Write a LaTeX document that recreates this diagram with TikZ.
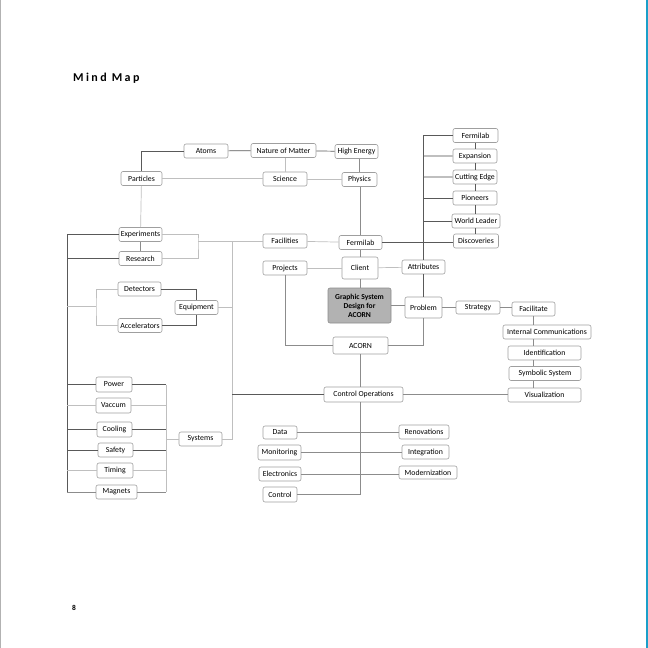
\documentclass[tikz,border=0pt]{standalone}
\usepackage{fontspec}
\setmainfont{Carlito}
\usepackage{xcolor}
\definecolor{pageblue}{HTML}{1A9FC9}
\tikzset{
    box/.style={draw=gray!75, fill=white, rounded corners=2pt, line width=0.6pt,
        minimum width=44pt, minimum height=14pt, inner sep=0pt,
        font=\fontsize{7.8}{9}\selectfont},
    mainbox/.style={box, fill=gray!60, draw=gray!90, align=center,
        font=\fontsize{7.6}{9}\selectfont\bfseries},
    darkline/.style={draw=black!65, line width=0.7pt},
    midline/.style={draw=black!45, line width=0.7pt},
    lightline/.style={draw=black!25, line width=0.7pt},
    thickline/.style={draw=black!25, line width=1.4pt},
}

\begin{document}
\begin{tikzpicture}[x=1pt, y=-1pt]
    \useasboundingbox (0,0) rectangle (648,648);
    %% page edges
    \draw[gray!60, line width=1pt] (0.5,0) -- (0.5,648);
    \draw[pageblue, line width=1.2pt] (647,0) -- (647,648);
    \node[anchor=base west, inner sep=0pt, font=\fontsize{12}{14}\selectfont\bfseries\addfontfeature{LetterSpace=20}] (title) at (73,81) {Mind Map};
    \node[inner sep=0pt, font=\fontsize{7.5}{8}\selectfont\bfseries] (pagenum) at (74,608) {8};

    %% top rows
    \node[box] (atoms) at (206,151) {Atoms};
    \node[box, minimum width=65pt] (nature) at (283.5,150.5) {Nature of Matter};
    \node[box, minimum width=43pt] (highenergy) at (356.5,151.5) {High Energy};
    \node[box, minimum width=41pt] (particles) at (141.5,178.5) {Particles};
    \node[box] (science) at (285,179) {Science};
    \node[box, minimum width=35pt] (physics) at (359.5,179.5) {Physics};

    %% right column
    \node[box, minimum width=45pt] (fermilabtop) at (475.5,135.5) {Fermilab};
    \node[box] (expansion) at (475,156) {Expansion};
    \node[box] (cutting) at (475,177) {Cutting Edge};
    \node[box] (pioneers) at (475,198) {Pioneers};
    \node[box, minimum width=48pt] (worldleader) at (476,221) {World Leader};
    \node[box, minimum width=45pt] (discoveries) at (476,241) {Discoveries};

    %% middle
    \node[box, minimum width=43pt] (experiments) at (140.5,234.5) {Experiments};
    \node[box, minimum width=43pt] (research) at (140.5,258.5) {Research};
    \node[box] (facilities) at (285,241) {Facilities};
    \node[box, minimum width=43pt] (fermilab) at (360.5,242.5) {Fermilab};
    \node[box] (projects) at (285,268) {Projects};
    \node[box, minimum width=36pt, minimum height=22pt] (client) at (360,268) {Client};
    \node[box, minimum width=43pt] (attributes) at (423.5,267) {Attributes};
    \node[box, minimum width=43pt] (detectors) at (139.5,289) {Detectors};
    \node[box] (accelerators) at (140,325.5) {Accelerators};
    \node[box, minimum width=43pt] (equipment) at (196.5,307.5) {Equipment};
    \node[mainbox, minimum width=63pt, minimum height=35pt] (graphic) at (359.5,305.5) {Graphic System\\Design for\\ACORN};
    \node[box, minimum width=37pt, minimum height=21pt] (problem) at (423.5,307.5) {Problem};
    \node[box, minimum height=13pt] (strategy) at (478,307.5) {Strategy};
    \node[box, minimum width=43pt] (facilitate) at (533.5,309) {Facilitate};
    \node[box, minimum width=88pt] (internal) at (547,332) {Internal Communications};
    \node[box, minimum width=73pt] (identification) at (544.5,353) {Identification};
    \node[box, minimum width=72pt] (symbolic) at (545,373.5) {Symbolic System};
    \node[box, minimum width=73pt] (visualization) at (544.5,395) {Visualization};
    \node[box, minimum width=55pt, minimum height=17pt] (acorn) at (360.5,345.5) {ACORN};
    \node[box, minimum width=79pt, minimum height=15pt] (controlops) at (363.5,394.5) {Control Operations};

    %% systems
    \node[box, minimum width=36pt, minimum height=15pt] (power) at (114,384.5) {Power};
    \node[box, minimum width=35pt, minimum height=15pt] (vaccum) at (113.5,405.5) {Vaccum};
    \node[box, minimum width=35pt, minimum height=15pt] (cooling) at (114.5,429.5) {Cooling};
    \node[box, minimum width=35pt] (safety) at (115.5,450) {Safety};
    \node[box, minimum width=36pt, minimum height=15pt] (timing) at (115,470.5) {Timing};
    \node[box, minimum width=41pt] (magnets) at (116.5,492) {Magnets};
    \node[box, minimum width=43pt] (systems) at (200.5,439) {Systems};

    %% bottom
    \node[box, minimum width=34pt, minimum height=13pt] (data) at (280,432.5) {Data};
    \node[box, minimum width=43pt, minimum height=15pt] (monitoring) at (279.5,452.5) {Monitoring};
    \node[box, minimum width=42pt] (electronics) at (280,474) {Electronics};
    \node[box, minimum width=34pt, minimum height=15pt] (control) at (280,494.5) {Control};
    \node[box, minimum width=50pt] (renovations) at (424,432) {Renovations};
    \node[box, minimum width=47pt] (integration) at (425.5,452) {Integration};
    \node[box, minimum width=58pt, minimum height=13pt] (modernization) at (428,472.5) {Modernization};

    %% bus points
    \coordinate (leftbus) at (67,234.5);
    \coordinate (leftbot) at (67,492);
    \coordinate (expbus) at (198,241);
    \coordinate (midbus) at (232,241);
    \coordinate (detbus) at (96,306.5);
    \coordinate (sysbus) at (166,384.5);
    \coordinate (sysbot) at (166,492);

    %% top connectors
    \draw[darkline] (atoms.west) -| (particles.north);
    \draw[darkline] (atoms) -- (nature);
    \draw[darkline] (nature) -- (highenergy);
    \draw[lightline] (science.north) -- (science.north |- nature.south);
    \draw[lightline] (particles) -- (particles -| science.west);
    \draw[lightline] (science) -- (science -| physics.west);
    \draw[midline] (physics.north) -- (physics.north |- highenergy.south);
    \draw[midline] (physics.south -| fermilab) -- (fermilab.north);
    \draw[midline] (fermilab.south -| client) -- (client.north);
    \draw[midline] (client.south) -- (client.south |- graphic.north);
    \draw[lightline] (particles) -- (experiments);
    \draw[midline] (experiments) -- (research);

    %% left side
    \draw[lightline] (experiments.east) -| (expbus) |- (research.east);
    \draw[lightline] (expbus) -- (facilities.west);
    \draw[lightline] (midbus) |- (systems.east);
    \draw[lightline] (equipment.east) -- (equipment.east -| midbus);
    \draw[darkline] (controlops.west) -- (controlops.west -| midbus);
    \draw[darkline] (experiments.west) -- (leftbus) -- (leftbot);
    \draw[darkline] (research.west) -- (research.west -| leftbus);
    \draw[lightline] (detectors.west) -| (detbus) |- (accelerators.west);
    \draw[lightline] (detbus) -- (detbus -| leftbus);
    \draw[darkline] (detectors.east) -| (equipment.north);
    \draw[darkline] (accelerators.east) -| (equipment.south);

    %% centre
    \draw[lightline] (facilities) -- (fermilab);
    \draw[lightline] (projects) -- (client);
    \draw[lightline] (client) -- (attributes);
    \draw[midline] (projects.south) |- (acorn.west);
    \draw[midline] (acorn.east) -| (problem.south);
    \draw[midline] (graphic.east) -- (graphic.east -| problem.west);
    \draw[midline] (problem.east) -- (problem.east -| strategy.west);
    \draw[midline] (strategy.east) -- (strategy.east -| facilitate.west);
    \draw[midline] (facilitate.south) -- (facilitate.south |- internal.north);
    \draw[midline] (internal.south -| facilitate) -- (identification.north -| facilitate);
    \draw[midline] (identification.south -| facilitate) -- (symbolic.north -| facilitate);
    \draw[midline] (symbolic.south -| facilitate) -- (visualization.north -| facilitate);
    \draw[midline] (controlops.east) -- (controlops.east -| visualization.west);
    \draw[midline] (acorn.south) -- (acorn.south |- controlops.north);

    %% attributes column
    \draw[darkline] (attributes.north) |- (fermilabtop.west);
    \draw[darkline] (attributes.south) -- (problem.north);
    \draw[thickline] (expansion.west -| attributes) -- (expansion.west);
    \draw[thickline] (cutting.west -| attributes) -- (cutting.west);
    \draw[darkline] (pioneers.west -| attributes) -- (pioneers.west);
    \draw[darkline] (worldleader.west -| attributes) -- (worldleader.west);
    \draw[darkline] (fermilab.east) -- (fermilab.east -| discoveries.west);
    \foreach \a/\b in {fermilabtop/expansion, expansion/cutting, cutting/pioneers,
        pioneers/worldleader, worldleader/discoveries}
        \draw[darkline] (\a.south -| fermilabtop) -- (\b.north -| fermilabtop);

    %% systems lines
    \foreach \s/\c in {power/darkline, vaccum/lightline, cooling/darkline,
        safety/darkline, timing/lightline, magnets/midline} {
        \draw[\c] (\s.west -| leftbus) -- (\s.west);
        \draw[\c] (\s.east) -- (\s.east -| sysbus);
    }
    \draw[lightline] (sysbus) -- (sysbot);
    \draw[lightline] (systems.west) -- (systems.west -| sysbus);

    %% control operations
    \draw[midline] (controlops.south -| acorn) -- (acorn |- control) -- (control.east);
    \draw[midline] (data.east) -- (data.east -| renovations.west);
    \draw[midline] (monitoring.east) -- (monitoring.east -| integration.west);
    \draw[midline] (electronics.east) -- (electronics.east -| modernization.west);

\end{tikzpicture}
\end{document}
